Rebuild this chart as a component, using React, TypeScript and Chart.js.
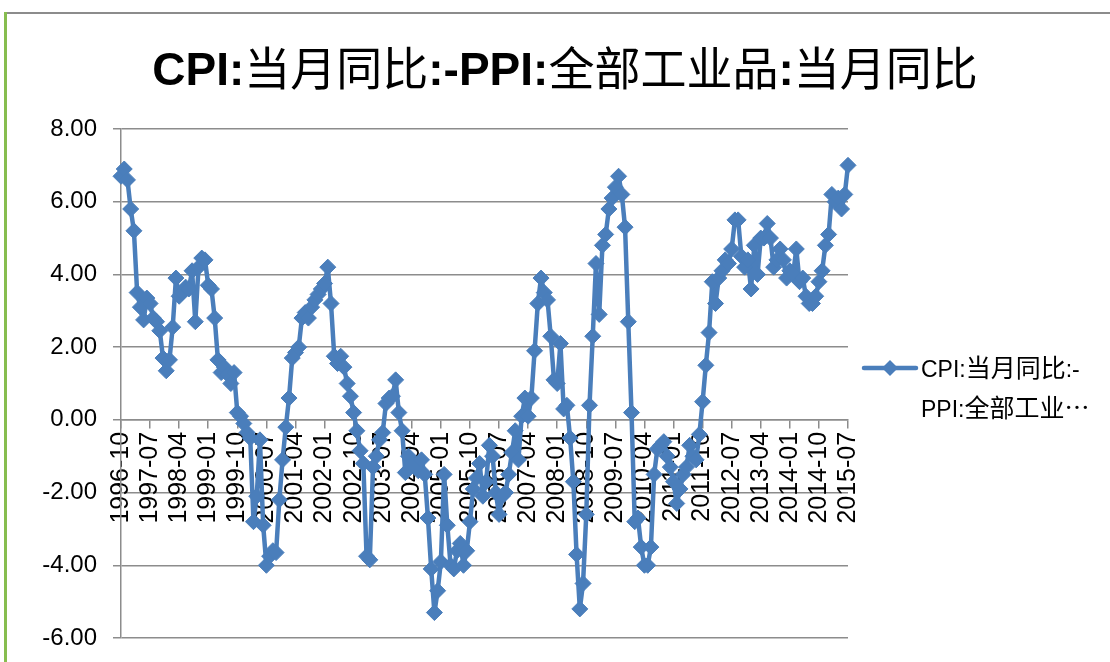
import React, { useEffect, useRef } from "react";
import { Chart, registerables } from "chart.js";

Chart.register(...registerables);

const TITLE = "CPI:当月同比:-PPI:全部工业品:当月同比";
const SERIES_NAME = "CPI:当月同比:-PPI:全部工业品:当月同比";
const LEGEND_LINES = ["CPI:当月同比:-", "PPI:全部工业…"];

const START_YEAR = 1996;
const START_MONTH = 10;

// CPI yoy minus PPI yoy, monthly 1996-10 .. 2015-07
const VALUES = [
  6.7, 6.9, 6.6, 5.8, 5.2, 3.5, 3.1, 2.75, 3.35, 3.2, 2.8, 2.7, 2.45, 1.7, 1.35,
  1.65, 2.55, 3.9, 3.4, 3.5, 3.65, 3.6, 4.1, 2.7, 4.2, 4.45, 4.4, 3.7, 3.6, 2.8,
  1.65, 1.3, 1.45, 1.25, 1.0, 1.3, 0.2, 0.1, -0.1, -0.35, -0.5, -2.8, -2.1, -0.55, -2.9,
  -4.0, -3.75, -3.6, -3.65, -2.2, -1.1, -0.2, 0.6, 1.7, 1.85, 2.0, 2.8, 2.95, 2.8, 3.1,
  3.3, 3.45, 3.6, 3.75, 4.2, 3.2, 1.75, 1.55, 1.75, 1.45, 1.0, 0.65, 0.2, -0.3, -0.85,
  -1.2, -3.75, -3.85, -1.3, -1.0, -0.55, -0.35, 0.45, 0.6, 0.65, 1.1, 0.2, -0.3, -1.45, -1.0,
  -1.2, -1.3, -1.4, -1.1, -1.5, -2.7, -4.1, -5.3, -4.7, -3.9, -1.5, -2.9, -4.0, -4.1, -3.6,
  -3.4, -4.0, -3.6, -2.8, -1.9, -1.6, -1.2, -2.1, -1.7, -0.7, -1.0, -2.0, -2.6, -2.1, -2.0,
  -1.5, -0.9, -0.3, -1.1, 0.1, 0.6, 0.1, 0.6, 1.9, 3.2, 3.9, 3.5, 3.3, 2.3, 1.1,
  1.0, 2.1, 0.3, 0.4, -0.5, -1.7, -3.7, -5.2, -4.5, -2.6, 0.4, 2.3, 4.3, 2.9, 4.8,
  5.1, 5.8, 6.1, 6.4, 6.7, 6.2, 5.3, 2.7, 0.2, -2.8, -2.7, -3.5, -4.0, -4.0, -3.5,
  -1.5, -0.8, -0.7, -0.6, -1.0, -1.3, -1.7, -2.3, -1.9, -1.5, -1.3, -0.7, -1.0, -1.1, -0.4,
  0.5, 1.5, 2.4, 3.8, 3.2, 3.9, 4.1, 4.4, 4.3, 4.7, 5.5, 5.5, 4.5, 4.2, 4.4,
  3.6, 4.8, 4.0, 5.0, 5.0, 5.4, 5.0, 4.2, 4.4, 4.7, 4.4, 3.9, 4.1, 4.0, 4.7,
  3.8, 3.9, 3.4, 3.2, 3.2, 3.4, 3.8, 4.1, 4.8, 5.1, 6.2, 6.0, 6.1, 5.8, 6.2,
  7.0,
];

const TICK_LABELS = [
  "1996-10", "1997-07", "1998-04", "1999-01", "1999-10", "2000-07", "2001-04",
  "2002-01", "2002-10", "2003-07", "2004-04", "2005-01", "2005-10", "2006-07",
  "2007-04", "2008-01", "2008-10", "2009-07", "2010-04", "2011-01", "2011-10",
  "2012-07", "2013-04", "2014-01", "2014-10", "2015-07",
];

const Y_MIN = -6;
const Y_MAX = 8;
const Y_STEP = 2;

const CATEGORIES = VALUES.map((_, i) => {
  const m = START_MONTH - 1 + i;
  const y = START_YEAR + Math.floor(m / 12);
  const mm = (m % 12) + 1;
  return `${y}-${String(mm).padStart(2, "0")}`;
});
const TICK_SET = new Set(TICK_LABELS);

const BLUE = "#4A7EBB";
const GRID = "#8c8c8c";
const FONT_LATIN = '"Liberation Sans", Arial, sans-serif';
const FONT_CJK = '"Noto Sans CJK SC", "Noto Sans CJK JP", sans-serif';
const RUN_RE = /[\u3000-\u9fff\uff00-\uffef\u2026]+|[^\u3000-\u9fff\uff00-\uffef\u2026]+/g;
const IS_CJK = /[\u3000-\u9fff\uff00-\uffef\u2026]/;

function drawRuns(
  ctx: CanvasRenderingContext2D,
  text: string,
  x: number,
  y: number,
  size: number,
  cjkSize: number,
  latinWeight: string,
  align: "left" | "center"
) {
  const runs = (text.match(RUN_RE) || []).map((t) => ({
    t,
    font: IS_CJK.test(t) ? `normal ${cjkSize}px ${FONT_CJK}` : `${latinWeight} ${size}px ${FONT_LATIN}`,
    w: 0,
  }));
  let total = 0;
  for (const r of runs) {
    ctx.font = r.font;
    r.w = ctx.measureText(r.t).width;
    total += r.w;
  }
  let cx = align === "center" ? x - total / 2 : x;
  ctx.textAlign = "left";
  ctx.textBaseline = "alphabetic";
  for (const r of runs) {
    ctx.font = r.font;
    ctx.fillText(r.t, cx, y);
    cx += r.w;
  }
}

const framePlugin = {
  id: "frame",
  beforeDraw(chart: any) {
    const ctx = chart.ctx as CanvasRenderingContext2D;
    ctx.save();
    ctx.fillStyle = "#ffffff";
    ctx.fillRect(0, 0, chart.width, chart.height);
    ctx.fillStyle = "#8c8c8c";
    ctx.fillRect(5, 12, chart.width - 5, 2);
    ctx.fillStyle = "#87bd4f";
    ctx.fillRect(4, 12, 3, chart.height - 12);
    ctx.restore();
  },
};

const titleLegendPlugin = {
  id: "titleLegend",
  afterDraw(chart: any) {
    const ctx = chart.ctx as CanvasRenderingContext2D;
    ctx.save();
    ctx.fillStyle = "#000000";
    drawRuns(ctx, TITLE, 565, 85, 46, 46, "bold", "center");

    // legend
    const ly = 368;
    ctx.strokeStyle = BLUE;
    ctx.lineWidth = 4.5;
    ctx.lineCap = "round";
    ctx.beginPath();
    ctx.moveTo(864, ly);
    ctx.lineTo(916, ly);
    ctx.stroke();
    ctx.fillStyle = BLUE;
    ctx.beginPath();
    const r = 8;
    ctx.moveTo(890, ly - r);
    ctx.lineTo(890 + r, ly);
    ctx.lineTo(890, ly + r);
    ctx.lineTo(890 - r, ly);
    ctx.closePath();
    ctx.fill();
    ctx.fillStyle = "#000000";
    drawRuns(ctx, LEGEND_LINES[0], 921, 377, 23, 25, "normal", "left");
    drawRuns(ctx, LEGEND_LINES[1], 921, 417, 23, 25, "normal", "left");
    ctx.restore();
  },
};

export default function App() {
  const ref = useRef<HTMLCanvasElement | null>(null);

  useEffect(() => {
    document.body.style.margin = "0";
    const canvas = ref.current;
    if (!canvas) return;
    const chart = new Chart(canvas, {
      type: "line",
      data: {
        labels: CATEGORIES,
        datasets: [
          {
            label: SERIES_NAME,
            data: VALUES,
            borderColor: BLUE,
            backgroundColor: BLUE,
            borderWidth: 4.5,
            borderJoinStyle: "round",
            borderCapStyle: "round",
            tension: 0,
            pointStyle: "rectRot",
            pointRadius: 8,
            pointBorderWidth: 1,
            pointBackgroundColor: BLUE,
            pointBorderColor: BLUE,
            clip: false as any,
          },
        ],
      },
      options: {
        responsive: false,
        animation: false,
        devicePixelRatio: 1,
        layout: { padding: { left: 0, right: 262, top: 129, bottom: 24 } },
        plugins: {
          legend: { display: false },
          title: { display: false },
          tooltip: { enabled: false },
        },
        scales: {
          x: {
            type: "category",
            position: { y: 0 } as any,
            offset: false,
            grid: {
              drawOnChartArea: false,
              drawTicks: true,
              tickLength: 8,
              color: GRID,
              lineWidth: 1.5,
            },
            border: { display: true, color: GRID, width: 1.5 },
            ticks: {
              autoSkip: false,
              maxRotation: 90,
              minRotation: 90,
              padding: 4,
              color: "#000000",
              font: { family: FONT_LATIN, size: 25 },
              callback: (_v: any, i: number) =>
                TICK_SET.has(CATEGORIES[i]) ? CATEGORIES[i] : null,
            },
            afterFit: (scale: any) => {
              scale.paddingLeft = 0;
              scale.paddingRight = 0;
            },
          },
          y: {
            min: Y_MIN,
            max: Y_MAX,
            grid: {
              color: GRID,
              lineWidth: 1.5,
              drawTicks: true,
              tickLength: 8,
            },
            border: { display: true, color: GRID, width: 1.5 },
            ticks: {
              stepSize: Y_STEP,
              padding: 16,
              color: "#000000",
              font: { family: FONT_LATIN, size: 24 },
              callback: (v: any) => Number(v).toFixed(2),
            },
            afterFit: (scale: any) => {
              scale.width = 121;
              scale.paddingTop = 0;
              scale.paddingBottom = 0;
            },
          },
        },
      },
      plugins: [framePlugin, titleLegendPlugin],
    });
    return () => chart.destroy();
  }, []);

  return (
    <div style={{ position: "relative", width: 1110, height: 662 }}>
      <canvas ref={ref} width={1110} height={662} style={{ display: "block" }} />
    </div>
  );
}
